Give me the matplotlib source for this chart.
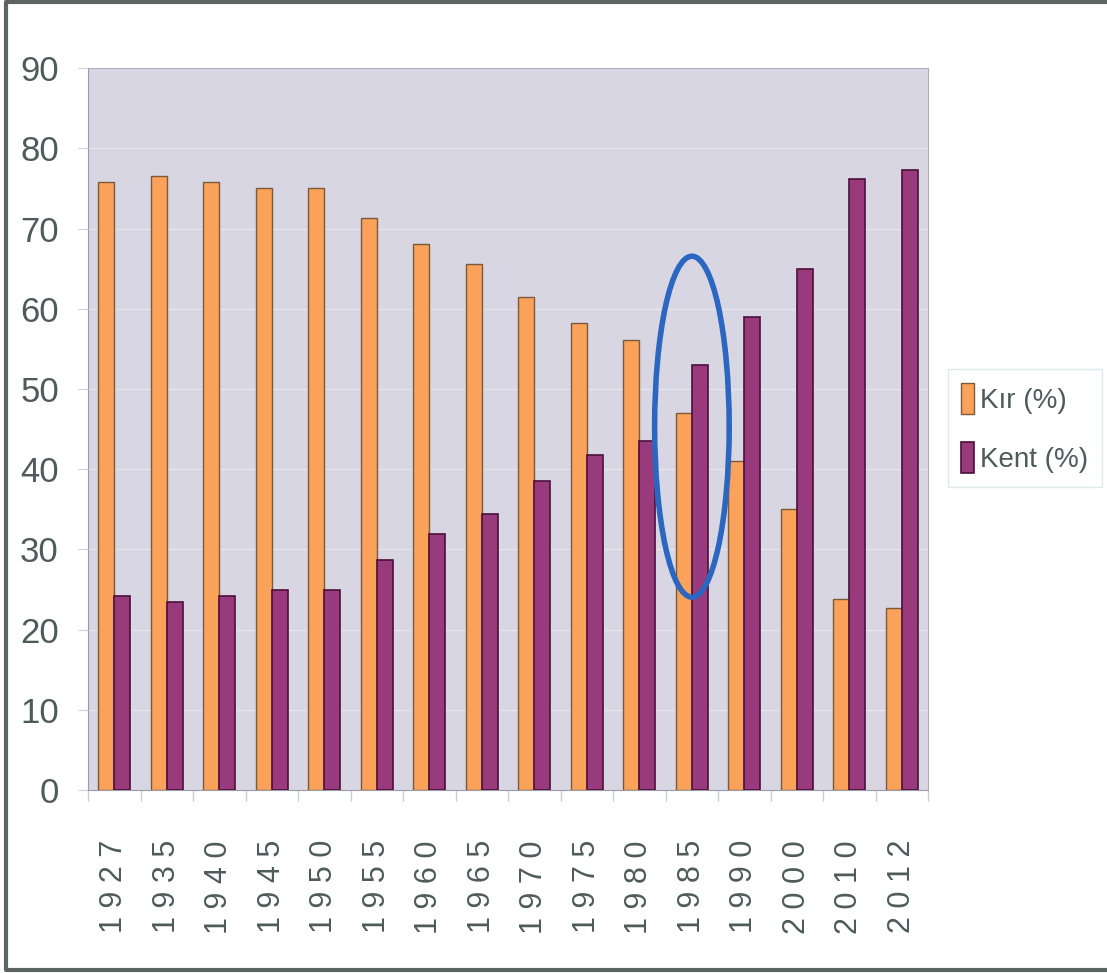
import matplotlib.pyplot as plt
import numpy as np
from matplotlib.patches import Ellipse
from matplotlib.lines import Line2D

years = ["1927", "1935", "1940", "1945", "1950", "1955", "1960", "1965",
         "1970", "1975", "1980", "1985", "1990", "2000", "2010", "2012"]
kir = [75.8, 76.5, 75.8, 75.1, 75.0, 71.3, 68.1, 65.6,
       61.5, 58.2, 56.1, 47.0, 41.0, 35.1, 23.8, 22.7]
kent = [24.2, 23.5, 24.2, 24.9, 25.0, 28.7, 31.9, 34.4,
        38.5, 41.8, 43.5, 53.0, 59.0, 64.9, 76.2, 77.3]
labels = ["Kır (%)", "Kent (%)"]
highlight_year = "1985"

plt.rcParams['font.family'] = ['Liberation Sans', 'DejaVu Sans']
txt_color = '#4d5b5b'

fig = plt.figure(figsize=(11.07, 9.73), dpi=100)
ax = fig.add_axes([0.0795, 0.188, 0.759, 0.742])

x = np.arange(len(years))
w = 0.305
ax.bar(x - w/2, kir, w, color='#fba25a', edgecolor='#7a5a3a', linewidth=1.0, label=labels[0], zorder=3)
ax.bar(x + w/2, kent, w, color='#993a7c', edgecolor='#4a0f38', linewidth=1.2, label=labels[1], zorder=3)

ax.set_facecolor('#d9d6e3')
ax.set_xlim(-0.5, len(years) - 0.5)
ax.set_ylim(0, 90)
ax.set_yticks(np.arange(0, 91, 10))
ax.yaxis.grid(True, color='#e6e4ee', linewidth=1.0, zorder=0)
ax.set_axisbelow(True)

# category boundary ticks on the x axis
ax.set_xticks(np.arange(-0.5, len(years), 1.0))
ax.set_xticklabels([])
ax.set_xticks(x, minor=True)
ax.set_xticklabels([" ".join(y) for y in years], minor=True, rotation=90,
                   fontsize=22, color=txt_color, va='top')
ax.tick_params(axis='x', which='minor', length=0, pad=36)
ax.tick_params(axis='x', which='major', length=8, color='#c4cdd8', width=1)
ax.tick_params(axis='y', length=7, color='#d0d0d8', labelsize=25, labelcolor=txt_color, pad=14)

for s in ['top', 'right']:
    ax.spines[s].set_color('#b0aebb')
for s in ['left', 'bottom']:
    ax.spines[s].set_color('#9c9aa8')

# highlight ellipse around 1985
i = years.index(highlight_year)
ell = Ellipse((i, 45.3), 1.42, 42.5, fill=False, edgecolor='#2b67c0', linewidth=4, zorder=5)
ax.add_patch(ell)

leg = fig.legend(loc='center left', bbox_to_anchor=(0.856, 0.56), fontsize=20,
                 handlelength=0.45, handleheight=1.35, handletextpad=0.2,
                 labelspacing=1.0, frameon=True, fancybox=False, borderpad=0.5,
                 borderaxespad=0)
leg.get_frame().set_edgecolor('#d5e6ea')
leg.get_frame().set_linewidth(1.0)
for t in leg.get_texts():
    t.set_color(txt_color)

# outer border (top, left, bottom only)
border = dict(transform=fig.transFigure, color='#5c6464', linewidth=3)
fig.lines.append(Line2D([1.0, 0.005, 0.005, 1.0], [0.998, 0.998, 0.003, 0.003], **border))

fig.savefig("out.png", dpi=100)
